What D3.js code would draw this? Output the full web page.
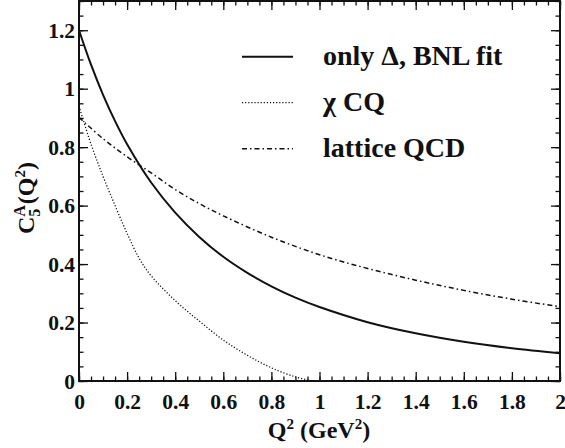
<!DOCTYPE html>
<html>
<head>
<meta charset="utf-8">
<script src="https://cdn.jsdelivr.net/npm/d3@7"></script>
</head>
<body style="margin:0">
<svg id="chart" width="565" height="448" font-family="Liberation Serif" style="font-family: 'Liberation Serif'"></svg>
<script>
// ---- data ----
const bnlQ2 = [0, 0.05, 0.1, 0.15, 0.2, 0.3, 0.4, 0.5, 0.6, 0.7, 0.8, 0.9, 1.0, 1.2, 1.4, 1.6, 1.8, 2.0];
const bnlC5A = [1.2, 1.082, 0.979, 0.889, 0.81, 0.679, 0.576, 0.493, 0.425, 0.37, 0.324, 0.285, 0.253, 0.201, 0.163, 0.134, 0.112, 0.095];

const cqQ2 = [0, 0.05, 0.1, 0.15, 0.2, 0.25, 0.3, 0.4, 0.5, 0.6, 0.7, 0.8, 0.9, 0.97];
const cqC5A = [0.94, 0.81, 0.70, 0.60, 0.505, 0.42, 0.36, 0.275, 0.205, 0.14, 0.088, 0.045, 0.014, 0.0];

const latQ2 = [0, 0.1, 0.2, 0.3, 0.4, 0.5, 0.6, 0.8, 1.0, 1.2, 1.4, 1.6, 1.8, 2.0];
const latC5A = [0.902, 0.829, 0.767, 0.712, 0.655, 0.607, 0.565, 0.492, 0.432, 0.385, 0.345, 0.31, 0.28, 0.254];

const seriesNames = ["only \u0394, BNL fit", "\u03C7 CQ", "lattice QCD"];

const xTicks = [0, 0.2, 0.4, 0.6, 0.8, 1, 1.2, 1.4, 1.6, 1.8, 2];
const xTickLabels = ["0", "0.2", "0.4", "0.6", "0.8", "1", "1.2", "1.4", "1.6", "1.8", "2"];
const yTicks = [0, 0.2, 0.4, 0.6, 0.8, 1, 1.2];
const yTickLabels = ["0", "0.2", "0.4", "0.6", "0.8", "1", "1.2"];
const minorStep = 0.05;

// ---- layout ----
const L = 79, R = 560, T = 1, B = 381;
const svg = d3.select("#chart");

const x = d3.scaleLinear().domain([0, 2]).range([L, R]);
const y = d3.scaleLinear().domain([0, 1.3]).range([B, T]);

const xMinor = d3.range(0, 2 + 1e-9, minorStep).map(v => +v.toFixed(2));
const yMinor = d3.range(0, 1.3 + 1e-9, minorStep).map(v => +v.toFixed(2));

const MAJ = 9, MIN = 4.5;

function setFont(sel, size) {
  sel.attr("font-family", "Liberation Serif")
     .style("font-family", "\"Liberation Serif\"")
     .attr("font-weight", "bold")
     .attr("font-size", size)
     .attr("fill", "#111");
  return sel;
}
function styleAxis(g) {
  g.attr("font-family", "Liberation Serif").attr("font-size", null);
  g.select(".domain").remove();
  g.selectAll("line").attr("stroke", "#111").attr("stroke-width", 1.3);
}

// bottom
svg.append("g").attr("transform", `translate(0,${B})`)
  .call(d3.axisBottom(x).tickValues(xMinor).tickSize(-MIN).tickFormat(""))
  .call(styleAxis);
svg.append("g").attr("transform", `translate(0,${B})`)
  .call(d3.axisBottom(x).tickValues(xTicks).tickSize(-MAJ).tickFormat((d, i) => xTickLabels[i]))
  .call(styleAxis)
  .call(g => setFont(g.selectAll("text"), 21.5).attr("dy", 0).attr("y", 28));
// top
svg.append("g").attr("transform", `translate(0,${T})`)
  .call(d3.axisTop(x).tickValues(xMinor).tickSize(-MIN).tickFormat(""))
  .call(styleAxis);
svg.append("g").attr("transform", `translate(0,${T})`)
  .call(d3.axisTop(x).tickValues(xTicks).tickSize(-MAJ).tickFormat(""))
  .call(styleAxis);
// left
svg.append("g").attr("transform", `translate(${L},0)`)
  .call(d3.axisLeft(y).tickValues(yMinor).tickSize(-MIN).tickFormat(""))
  .call(styleAxis);
svg.append("g").attr("transform", `translate(${L},0)`)
  .call(d3.axisLeft(y).tickValues(yTicks).tickSize(-MAJ).tickFormat((d, i) => yTickLabels[i]))
  .call(styleAxis)
  .call(g => setFont(g.selectAll("text"), 21.5).attr("x", -4).attr("dy", "0.33em"));
// right
svg.append("g").attr("transform", `translate(${R},0)`)
  .call(d3.axisRight(y).tickValues(yMinor).tickSize(-MIN).tickFormat(""))
  .call(styleAxis);
svg.append("g").attr("transform", `translate(${R},0)`)
  .call(d3.axisRight(y).tickValues(yTicks).tickSize(-MAJ).tickFormat(""))
  .call(styleAxis);

// frame
svg.append("rect").attr("x", L).attr("y", T).attr("width", R - L).attr("height", B - T)
  .attr("fill", "none").attr("stroke", "#111").attr("stroke-width", 2);

// curves
const line = d3.line().x(d => x(d[0])).y(d => y(d[1])).curve(d3.curveCatmullRom.alpha(0.5));
const styles = [
  { w: 2, dash: null },
  { w: 1.3, dash: "1.2,1.9" },
  { w: 1.5, dash: "5,3,1.5,3" }
];
const seriesData = [
  d3.zip(bnlQ2, bnlC5A),
  d3.zip(cqQ2, cqC5A),
  d3.zip(latQ2, latC5A)
];
const plot = svg.append("g");
seriesData.forEach((data, i) => {
  plot.append("path").datum(data).attr("d", line)
    .attr("fill", "none").attr("stroke", "#111")
    .attr("stroke-width", styles[i].w)
    .attr("stroke-dasharray", styles[i].dash);
});

// legend
const legY = [56.7, 102.7, 148.7];
seriesNames.forEach((name, i) => {
  svg.append("line").attr("x1", 242).attr("x2", 293).attr("y1", legY[i]).attr("y2", legY[i])
    .attr("stroke", "#111").attr("stroke-width", styles[i].w)
    .attr("stroke-dasharray", styles[i].dash);
  setFont(svg.append("text"), 28).attr("x", 323).attr("y", legY[i] + 8.5).text(name);
});

// x title
const xt = setFont(svg.append("text"), 24).attr("x", 319).attr("y", 438).attr("text-anchor", "middle");
xt.append("tspan").text("Q");
xt.append("tspan").attr("dy", -9).attr("font-size", 15).text("2");
xt.append("tspan").attr("dy", 9).text(" (GeV");
xt.append("tspan").attr("dy", -9).attr("font-size", 15).text("2");
xt.append("tspan").attr("dy", 9).text(")");

// y title (C^A_5(Q^2)), rotated
const yg = svg.append("g").attr("transform", "translate(34,198) rotate(-90)");
const tC = setFont(yg.append("text"), 24).text("C");
const tA = setFont(yg.append("text"), 16).text("A");
const t5 = setFont(yg.append("text"), 16).text("5");
const rest = setFont(yg.append("text"), 24);
rest.append("tspan").text("(Q");
rest.append("tspan").attr("dy", -9).attr("font-size", 15).text("2");
rest.append("tspan").attr("dy", 9).text(")");

const wC = tC.node().getComputedTextLength();
const wA = Math.max(tA.node().getComputedTextLength(), t5.node().getComputedTextLength());
const wR = rest.node().getComputedTextLength();
const total = wC + wA + 1 + wR;
const x0 = -total / 2;
tC.attr("x", x0).attr("y", 0);
tA.attr("x", x0 + wC).attr("y", -9);
t5.attr("x", x0 + wC).attr("y", 6);
rest.attr("x", x0 + wC + wA + 1).attr("y", 0);
</script>
</body>
</html>
